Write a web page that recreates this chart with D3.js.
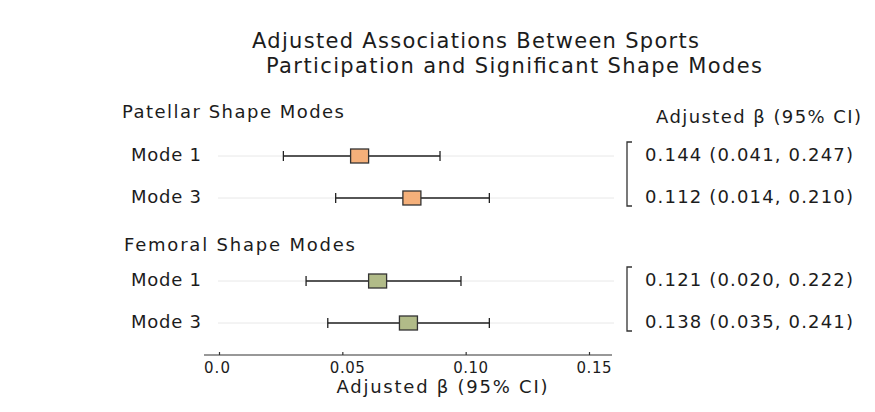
<!DOCTYPE html>
<html>
<head>
<meta charset="utf-8">
<script src="https://cdn.jsdelivr.net/npm/d3@7"></script>
<style>
  body { margin: 0; background: #fff; }
  text { font-family: "DejaVu Sans", "Noto Sans", sans-serif; fill: #1c1c1c; }
</style>
</head>
<body>
<div id="chart"></div>
<script>
const width = 875;
const height = 412;

// data
const groups = ["Patellar Shape Modes", "Femoral Shape Modes"];
const modes = ["Mode 1", "Mode 3", "Mode 1", "Mode 3"];
const rowGroup = [0, 0, 1, 1];
const estimates = [0.057, 0.0782, 0.0643, 0.0768];
const lower = [0.0261, 0.0473, 0.0353, 0.0441];
const upper = [0.0896, 0.1096, 0.0981, 0.1096];
const ciLabels = ["0.144 (0.041, 0.247)", "0.112 (0.014, 0.210)",
    "0.121 (0.020, 0.222)", "0.138 (0.035, 0.241)"];
const tickValues = [0, 0.05, 0.10, 0.15];
const tickLabels = ["0.0", "0.05", "0.10", "0.15"];
const groupColors = ["#f5b07a", "#b1bb88"];

const svg = d3.select("#chart")
    .append("svg")
        .attr("width", width)
        .attr("height", height);

const x = d3.scaleLinear()
    .domain([0, 0.15])
    .range([219, 589]);

const rowY = [156, 198, 281, 323];

// the reference type is set with wide tracking, so stretch spacing to width
function label(sel, px, y, size, txt, len, anchor) {
    return sel.append("text")
        .attr("x", px).attr("y", y)
        .attr("text-anchor", anchor || "start")
        .attr("textLength", len)
        .attr("lengthAdjust", "spacing")
        .style("font-size", size + "px")
        .text(txt);
}

// title
label(svg, 252, 48, 21, "Adjusted Associations Between Sports", 447);
label(svg, 266, 73, 21, "Participation and Significant Shape Modes", 496);

// group headers
label(svg, 122, 118, 18, groups[0], 222);
label(svg, 124, 251, 18, groups[1], 231);

// right column header
label(svg, 656, 123, 18, "Adjusted β (95% CI)", 205);

const rows = d3.range(modes.length);

// light row guide lines
svg.selectAll("line.guide")
    .data(rows)
    .enter().append("line")
        .attr("class", "guide")
        .attr("x1", 218).attr("x2", 614)
        .attr("y1", i => rowY[i]).attr("y2", i => rowY[i])
        .attr("stroke", "#e8e8e8")
        .attr("stroke-width", 1);

// mode labels
svg.selectAll("text.mode")
    .data(rows)
    .enter().append("text")
        .attr("class", "mode")
        .attr("x", 201)
        .attr("y", i => rowY[i] + 5)
        .attr("text-anchor", "end")
        .attr("textLength", 70)
        .attr("lengthAdjust", "spacing")
        .style("font-size", "18px")
        .text(i => modes[i]);

// whiskers
svg.selectAll("line.ci")
    .data(rows)
    .enter().append("line")
        .attr("class", "ci")
        .attr("x1", i => x(lower[i])).attr("x2", i => x(upper[i]))
        .attr("y1", i => rowY[i]).attr("y2", i => rowY[i])
        .attr("stroke", "#222")
        .attr("stroke-width", 1.3);

["lo", "hi"].forEach(side => {
    svg.selectAll("line.cap-" + side)
        .data(rows)
        .enter().append("line")
            .attr("class", "cap-" + side)
            .attr("x1", i => x(side === "lo" ? lower[i] : upper[i]))
            .attr("x2", i => x(side === "lo" ? lower[i] : upper[i]))
            .attr("y1", i => rowY[i] - 5).attr("y2", i => rowY[i] + 5)
            .attr("stroke", "#222")
            .attr("stroke-width", 1.3);
});

// point estimate boxes
svg.selectAll("rect.est")
    .data(rows)
    .enter().append("rect")
        .attr("class", "est")
        .attr("x", i => x(estimates[i]) - 9)
        .attr("y", i => rowY[i] - 7)
        .attr("width", 18)
        .attr("height", 14)
        .attr("fill", i => groupColors[rowGroup[i]])
        .attr("stroke", "#333")
        .attr("stroke-width", 1.3);

// CI text
svg.selectAll("text.ci")
    .data(rows)
    .enter().append("text")
        .attr("class", "ci")
        .attr("x", 645)
        .attr("y", i => rowY[i] + 5)
        .attr("textLength", 208)
        .attr("lengthAdjust", "spacing")
        .style("font-size", "18px")
        .text(i => ciLabels[i]);

// brackets
svg.selectAll("path.bracket")
    .data(groups)
    .enter().append("path")
        .attr("class", "bracket")
        .attr("d", (d, i) => {
            const y0 = rowY[i * 2] - 14, y1 = rowY[i * 2 + 1] + 8;
            return `M632,${y0}H627V${y1}H632`;
        })
        .attr("fill", "none")
        .attr("stroke", "#333")
        .attr("stroke-width", 1.3);

// x axis
const axisY = 355;
const axis = svg.append("g")
    .attr("transform", `translate(0,${axisY})`);
axis.append("line")
    .attr("x1", 204).attr("x2", 612)
    .attr("stroke", "#333").attr("stroke-width", 1.2);
axis.call(d3.axisTop(x).tickValues(tickValues).tickSize(3).tickFormat(""))
    .call(g => g.select(".domain").remove())
    .call(g => g.selectAll(".tick line").attr("stroke", "#333").attr("stroke-width", 1.2));
axis.selectAll("text.tl")
    .data(tickValues)
    .enter().append("text")
        .attr("class", "tl")
        .attr("x", (d, i) => x(d) + (i === 0 ? -2 : 5))
        .attr("y", 18)
        .attr("text-anchor", "middle")
        .attr("textLength", (d, i) => i === 0 ? 26 : 35)
        .attr("lengthAdjust", "spacing")
        .style("font-size", "15px")
        .text((d, i) => tickLabels[i]);

label(svg, 442, 393, 18, "Adjusted β (95% CI)", 211, "middle");
</script>
</body>
</html>
